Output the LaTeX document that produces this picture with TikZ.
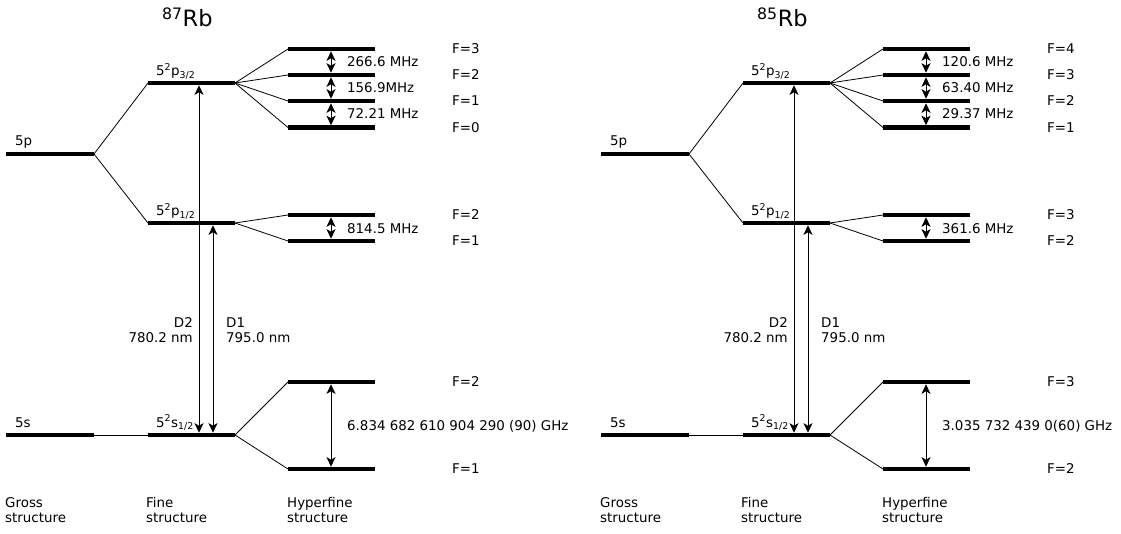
\documentclass[tikz,border=0pt]{standalone}
\usepackage{fontspec}
\setmainfont{DejaVu Sans}
\usetikzlibrary{arrows.meta}
\tikzset{
  lvl/.style={line width=4.6pt},
  conn/.style={line width=0.8pt},
  tip/.tip={Stealth[length=9.5pt,width=9pt,inset=2.5pt]},
  tr/.style={line width=0.9pt, tip-tip},
  lab/.style={font=\fontsize{13.4}{15}\selectfont, inner sep=0pt},
  ttl/.style={font=\fontsize{22.5}{26}\selectfont, inner sep=0pt},
}
\newcommand\rbdiagram[9]{%
  \node[ttl, anchor=base west] (title) at (162,27) {\textsuperscript{#1}Rb};
  % gross structure
  \coordinate (pL) at (6,154); \coordinate (pR) at (94,154);
  \coordinate (sL) at (6,435); \coordinate (sR) at (94,435);
  \draw[lvl] (pL) -- (pR);
  \draw[lvl] (sL) -- (sR);
  \node[lab, anchor=base west] (plab) at (15,146) {5p};
  \node[lab, anchor=base west] (slab) at (15,427) {5s};
  % fine structure
  \coordinate (p3L) at (148,83); \coordinate (p3R) at (235,83);
  \coordinate (p1L) at (148,223); \coordinate (p1R) at (235,223);
  \coordinate (s1L) at (148,435); \coordinate (s1R) at (235,435);
  \draw[lvl] (p3L) -- (p3R);
  \draw[lvl] (p1L) -- (p1R);
  \draw[lvl] (s1L) -- (s1R);
  \draw[conn] (pR) -- (p3L);
  \draw[conn] (pR) -- (p1L);
  \draw[conn] (sR) -- (s1L);
  \node[lab, anchor=base west] (p3lab) at (156,76) {5\textsuperscript{2}p\textsubscript{3/2}};
  \node[lab, anchor=base west] (p1lab) at (156,216) {5\textsuperscript{2}p\textsubscript{1/2}};
  \node[lab, anchor=base west] (s1lab) at (156,427) {5\textsuperscript{2}s\textsubscript{1/2}};
  % hyperfine of p3/2
  \foreach \n/\y in {a/49,b/75,c/101,d/127.5}{
    \coordinate (h3\n L) at (288,\y); \coordinate (h3\n R) at (375,\y);
    \coordinate (m3\n) at (331,\y);
    \draw[lvl] (h3\n L) -- (h3\n R);
    \draw[conn] (p3R) -- (h3\n L);
  }
  \draw[tr] ([yshift=-2.3pt]m3a) -- ([yshift=2.3pt]m3b);
  \draw[tr] ([yshift=-2.3pt]m3b) -- ([yshift=2.3pt]m3c);
  \draw[tr] ([yshift=-2.3pt]m3c) -- ([yshift=2.3pt]m3d);
  \node[lab, anchor=west] (f1) at (347,62) {#5};
  \node[lab, anchor=west] (f2) at (347,88) {#6};
  \node[lab, anchor=west] (f3) at (347,114) {#7};
  \node[lab, anchor=west] (F3a) at (452,49) {F=\the\numexpr#2\relax};
  \node[lab, anchor=west] (F3b) at (452,75) {F=\the\numexpr#2-1\relax};
  \node[lab, anchor=west] (F3c) at (452,101) {F=\the\numexpr#2-2\relax};
  \node[lab, anchor=west] (F3d) at (452,127.5) {F=\the\numexpr#2-3\relax};
  % hyperfine of p1/2
  \foreach \n/\y in {a/215,b/241}{
    \coordinate (h1\n L) at (288,\y); \coordinate (h1\n R) at (375,\y);
    \coordinate (m1\n) at (331,\y);
    \draw[lvl] (h1\n L) -- (h1\n R);
    \draw[conn] (p1R) -- (h1\n L);
  }
  \draw[tr] ([yshift=-2.3pt]m1a) -- ([yshift=2.3pt]m1b);
  \node[lab, anchor=west] (fp1) at (347,229) {#8};
  \node[lab, anchor=west] (F1a) at (452,215) {F=\the\numexpr#3\relax};
  \node[lab, anchor=west] (F1b) at (452,241) {F=\the\numexpr#3-1\relax};
  % hyperfine of s1/2
  \foreach \n/\y in {a/382,b/469}{
    \coordinate (hs\n L) at (288,\y); \coordinate (hs\n R) at (375,\y);
    \coordinate (ms\n) at (331,\y);
    \draw[lvl] (hs\n L) -- (hs\n R);
    \draw[conn] (s1R) -- (hs\n L);
  }
  \draw[tr] ([yshift=-2.3pt]msa) -- ([yshift=2.3pt]msb);
  \node[lab, anchor=west] (fs) at (347,426) {#9};
  \node[lab, anchor=west] (Fsa) at (452,382) {F=\the\numexpr#4\relax};
  \node[lab, anchor=west] (Fsb) at (452,469) {F=\the\numexpr#4-1\relax};
  % D lines
  \coordinate (d2t) at (199,83); \coordinate (d2b) at (199,435);
  \coordinate (d1t) at (213,223); \coordinate (d1b) at (213,435);
  \draw[tr] ([yshift=-2.3pt]d2t) -- ([yshift=2.3pt]d2b);
  \draw[tr] ([yshift=-2.3pt]d1t) -- ([yshift=2.3pt]d1b);
  \node[lab, anchor=base east] (D2a) at (193,327) {D2};
  \node[lab, anchor=base east] (D2b) at (193,342) {780.2 nm};
  \node[lab, anchor=base west] (D1a) at (226,327) {D1};
  \node[lab, anchor=base west] (D1b) at (226,342) {795.0 nm};
  % bottom captions
  \node[lab, anchor=base west] (g1) at (5,507) {Gross};
  \node[lab, anchor=base west] (g2) at (5,522) {structure};
  \node[lab, anchor=base west] (fi1) at (146,507) {Fine};
  \node[lab, anchor=base west] (fi2) at (146,522) {structure};
  \node[lab, anchor=base west] (hf1) at (287,507) {Hyperfine};
  \node[lab, anchor=base west] (hf2) at (287,522) {structure};
}
\begin{document}
\begin{tikzpicture}[x=1pt,y=-1pt]
  \useasboundingbox[fill=white] (0,0) rectangle (1121,534);
  \begin{scope}[name prefix=L-]
    \rbdiagram{87}{3}{2}{2}{266.6 MHz}{156.9MHz}{72.21 MHz}{814.5 MHz}{6.834 682 610 904 290 (90) GHz}
  \end{scope}
  \begin{scope}[xshift=595pt, name prefix=R-]
    \rbdiagram{85}{4}{3}{3}{120.6 MHz}{63.40 MHz}{29.37 MHz}{361.6 MHz}{3.035 732 439 0(60) GHz}
  \end{scope}
\end{tikzpicture}
\end{document}
